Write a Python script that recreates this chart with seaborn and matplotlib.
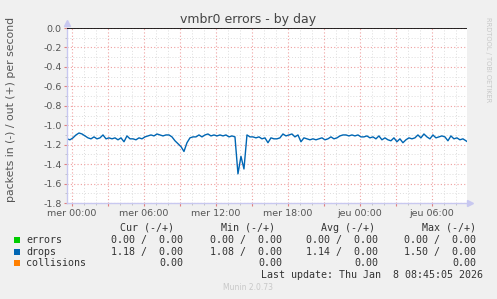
import numpy as np
import pandas as pd
import matplotlib
matplotlib.use("Agg")
import matplotlib.pyplot as plt
import seaborn as sns
from matplotlib.ticker import MultipleLocator

# ---- data (hours since "mer 00:00", 15-min steps) ----
t_start = -0.42
step = 0.25
drops = [
    -1.14, -1.15, -1.13,
    -1.10, -1.08, -1.09, -1.11,
    -1.13, -1.14, -1.12, -1.14,
    -1.13, -1.10, -1.14, -1.13,
    -1.14, -1.13, -1.15, -1.13,
    -1.17, -1.11, -1.14, -1.14,
    -1.15, -1.13, -1.14, -1.12,
    -1.11, -1.10, -1.11, -1.09,
    -1.10, -1.11, -1.10, -1.10,
    -1.12, -1.16, -1.19, -1.22,
    -1.27, -1.18, -1.13, -1.12,
    -1.12, -1.10, -1.12, -1.10,
    -1.09, -1.11, -1.10, -1.11,
    -1.10, -1.11, -1.10, -1.12,
    -1.11, -1.12, -1.50, -1.32,
    -1.45, -1.10, -1.12, -1.12,
    -1.13, -1.12, -1.14, -1.13,
    -1.18, -1.13, -1.14, -1.14,
    -1.13, -1.09, -1.11, -1.10,
    -1.09, -1.12, -1.10, -1.17,
    -1.13, -1.14, -1.15, -1.14,
    -1.15, -1.14, -1.13, -1.15,
    -1.14, -1.12, -1.14, -1.13,
    -1.11, -1.10, -1.10, -1.11,
    -1.10, -1.11, -1.10, -1.12,
    -1.12, -1.11, -1.13, -1.12,
    -1.14, -1.11, -1.15, -1.13,
    -1.15, -1.16, -1.13, -1.17,
    -1.14, -1.18, -1.15, -1.13,
    -1.14, -1.13, -1.10, -1.13,
    -1.09, -1.12, -1.14, -1.10,
    -1.13, -1.12, -1.11, -1.12,
    -1.16, -1.11, -1.14, -1.13,
    -1.15, -1.14, -1.16, -1.18,
]
hours = [t_start + step * i for i in range(len(drops))]

tick_hours = [0, 6, 12, 18, 24, 30]
tick_labels = ["mer 00:00", "mer 06:00", "mer 12:00", "mer 18:00", "jeu 00:00", "jeu 06:00"]
y_ticks = [-1.8, -1.6, -1.4, -1.2, -1.0, -0.8, -0.6, -0.4, -0.2, 0.0]
y_tick_labels = ["-1.8", "-1.6", "-1.4", "-1.2", "-1.0", "-0.8", "-0.6", "-0.4", "-0.2", "0.0"]

legend_names = ["errors", "drops", "collisions"]
legend_colors = ["#00CC00", "#0066B3", "#FF8000"]
cur_vals = ["0.00 /  0.00", "1.18 /  0.00", "0.00"]
min_vals = ["0.00 /  0.00", "1.08 /  0.00", "0.00"]
avg_vals = ["0.00 /  0.00", "1.14 /  0.00", "0.00"]
max_vals = ["0.00 /  0.00", "1.50 /  0.00", "0.00"]

df = pd.DataFrame({"hour": hours, "value": drops})

# ---- figure ----
W, H = 497, 299
sns.set_style("white")
plt.rcParams["font.family"] = ["DejaVu Sans"]
fig = plt.figure(figsize=(W / 100, H / 100), dpi=100, facecolor="#F0F0F0")

def px(x, y):
    return x / W, 1 - y / H

L, R, T, B = 67, 467, 28, 203
ax = fig.add_axes([L / W, 1 - B / H, (R - L) / W, (B - T) / H])
ax.set_facecolor("white")

sns.lineplot(data=df, x="hour", y="value", ax=ax, color="#0066B3", linewidth=1.0)

ax.set_xlim(-0.42, 32.92)
ax.set_ylim(-1.8, 0.0)
ax.xaxis.set_minor_locator(MultipleLocator(1))
ax.yaxis.set_minor_locator(MultipleLocator(0.1))
major_x = list(range(0, 33, 3))
ax.set_xticks(major_x)
ax.set_xticklabels([tick_labels[tick_hours.index(h)] if h in tick_hours else "" for h in major_x])
ax.set_yticks(y_ticks)
ax.set_yticklabels(y_tick_labels)
ax.grid(which="minor", color="#DDDDDD", linestyle=(0, (1, 2)), linewidth=0.7)
ax.grid(which="major", color="#F0A0A0", linestyle=(0, (1, 2)), linewidth=0.8)
ax.set_axisbelow(True)

ax.tick_params(axis="both", which="major", labelsize=6.8, labelcolor="#555555",
               length=2, color="#E08080", width=0.8, pad=2)
ax.tick_params(axis="both", which="minor", length=1.5, color="#BBBBBB", width=0.6)
ax.tick_params(axis="x", which="both", direction="out", bottom=True)
ax.tick_params(axis="y", which="both", direction="out", left=True)
ax.set_xlabel("")
ax.set_ylabel("")

for s in ["top", "right"]:
    ax.spines[s].set_visible(False)
for s in ["left", "bottom"]:
    ax.spines[s].set_color("#C8C8F0")
    ax.spines[s].set_linewidth(1.0)

ax.axhline(0, color="black", linewidth=1.2, zorder=5)
ax.plot([0], [1.03], marker="^", color="#C8C8F0", markersize=5, transform=ax.transAxes, clip_on=False)
ax.plot([1.008], [0], marker=">", color="#C8C8F0", markersize=5, transform=ax.transAxes, clip_on=False)

# ---- text ----
fig.text(*px(248, 20), "vmbr0 errors - by day", ha="center", va="center", fontsize=9, color="#444444")
fig.text(*px(11, 109), "packets in (-) / out (+) per second", ha="center", va="center",
         rotation=90, fontsize=7.8, color="#555555")
fig.text(*px(488, 60), "RRDTOOL / TOBI OETIKER", ha="center", va="center", rotation=270,
         fontsize=4.8, color="#C8C8C8")

mono = "DejaVu Sans Mono"
fs = 7.2
tc = "#333333"
headers = ["Cur (-/+)", "Min (-/+)", "Avg (-/+)", "Max (-/+)"]
header_x = [174, 275, 375, 476]
col_x = [183, 282, 378, 476]
for hx, htxt in zip(header_x, headers):
    fig.text(*px(hx, 228), htxt, ha="right", va="center", fontsize=fs, family=mono, color=tc)
rows_y = [240, 252, 263]
for i, (name, col) in enumerate(zip(legend_names, legend_colors)):
    y = rows_y[i]
    fig.patches.append(plt.Rectangle(px(14, y + 3), 6 / W, 6 / H, transform=fig.transFigure,
                                     facecolor=col, edgecolor="none"))
    fig.text(*px(26, y), name, ha="left", va="center", fontsize=fs, family=mono, color=tc)
    for cx, vals in zip(col_x, [cur_vals, min_vals, avg_vals, max_vals]):
        fig.text(*px(cx, y), vals[i], ha="right", va="center", fontsize=fs, family=mono, color=tc)
fig.text(*px(483, 275), "Last update: Thu Jan  8 08:45:05 2026", ha="right", va="center",
         fontsize=fs, family=mono, color=tc)
fig.text(*px(248, 288), "Munin 2.0.73", ha="center", va="center", fontsize=5.5, color="#C8C8C8")

fig.savefig("out.png", dpi=100, facecolor=fig.get_facecolor())
